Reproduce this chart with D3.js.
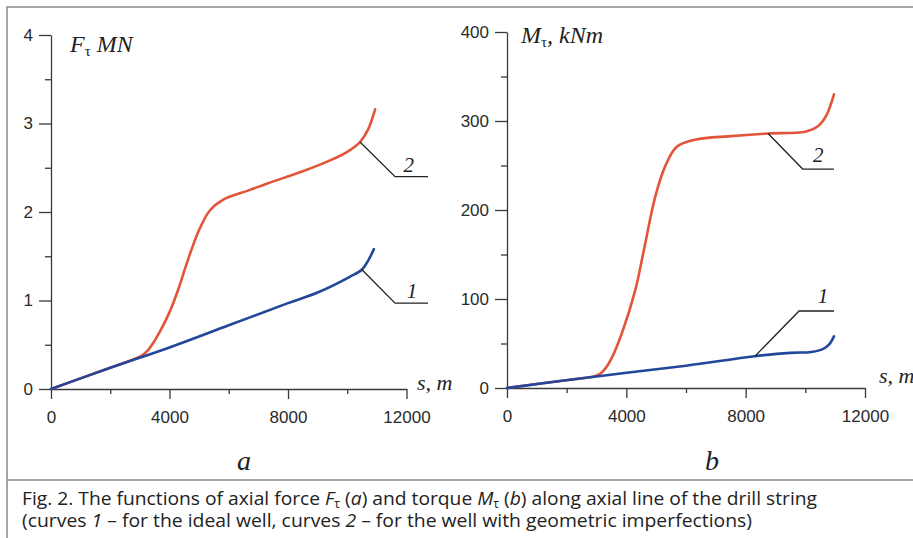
<!DOCTYPE html>
<html>
<head>
<meta charset="utf-8">
<script src="https://cdn.jsdelivr.net/npm/d3@7"></script>
<style>
  body { margin: 0; background: #fff; }
  svg { display: block; }
</style>
</head>
<body>
<svg></svg>
<script>
// ---- data ----
// panel a: axial force F (MN) vs s (m)
const sA1 = [0, 2000, 4000, 6000, 8000, 9000, 10100, 10500, 10720, 10900];
const fA1 = [0, 0.24, 0.47, 0.72, 0.97, 1.09, 1.27, 1.35, 1.46, 1.58];
const sA2 = [0, 1500, 2600, 2900, 3080, 3250, 3450, 3680, 4017, 4300, 4524, 4748, 5030, 5368, 5817, 6718, 7280, 8500, 9400, 10000, 10430, 10700, 10940];
const fA2 = [0, 0.18, 0.31, 0.35, 0.38, 0.43, 0.52, 0.65, 0.88, 1.13, 1.36, 1.58, 1.82, 2.02, 2.14, 2.25, 2.32, 2.46, 2.58, 2.68, 2.79, 2.93, 3.16];
// panel b: torque M (kNm) vs s (m)
const sB1 = [0, 3000, 6000, 8300, 9500, 10200, 10600, 10800, 10960];
const mB1 = [0, 13, 25, 35.7, 39.5, 40.5, 44, 49, 58];
const sB2 = [0, 1500, 2750, 2950, 3120, 3300, 3500, 3850, 4300, 4600, 4970, 5300, 5690, 6310, 7500, 8750, 10000, 10420, 10700, 10960];
const mB2 = [0, 6.8, 12, 13.5, 16, 22, 33, 61.5, 110, 157, 215, 249, 271, 279, 283, 286, 288, 294, 306, 330];

// ticks
const xMajor = [0, 4000, 8000, 12000];
const xMinor = [2000, 6000, 10000];
const yMajorA = [0, 1, 2, 3, 4];
const yMinorA = [0.5, 1.5, 2.5, 3.5];
const yMajorB = [0, 100, 200, 300, 400];
const yMinorB = [50, 150, 250, 350];

// curve labels: point on curve [s, v], elbow [s, v], end s, label pos [s, v]
const leadersA = [
  { name: "2", from: [10430, 2.79], elbow: [11614, 2.40], end: 12728, label: [11900, 2.45] },
  { name: "1", from: [10490, 1.35], elbow: [11614, 0.97], end: 12728, label: [12010, 1.03] }
];
const leadersB = [
  { name: "2", from: [8750, 286], elbow: [9913, 246], end: 10962, label: [10258, 254] },
  { name: "1", from: [8310, 35.7], elbow: [9789, 86.5], end: 10962, label: [10416, 95.5] }
];

const width = 913, height = 538;
const red = "#e2553a", blue = "#21469a", axisColor = "#3a3a3a";
const sans = "'Liberation Sans', Arial, sans-serif";
const serif = "'Liberation Serif', 'Times New Roman', serif";

const svg = d3.select("svg")
    .attr("width", width)
    .attr("height", height);

// khung
svg.append("path")
    .attr("d", `M7,${height}V7H${width}`)
    .attr("fill", "none")
    .attr("stroke", "#8a8a8a")
    .attr("stroke-width", 1.5);
svg.append("line")
    .attr("x1", 7).attr("x2", width)
    .attr("y1", 480).attr("y2", 480)
    .attr("stroke", "#8a8a8a")
    .attr("stroke-width", 1.5);

function drawPanel(p) {
    const x = d3.scaleLinear().domain([0, 12000]).range(p.xRange);
    const y = d3.scaleLinear().domain(p.yDomain).range(p.yRange);
    const g = svg.append("g");

    // trục X
    g.append("g")
        .attr("transform", `translate(0,${y(0)})`)
        .call(d3.axisBottom(x).tickValues(xMajor).tickSize(10).tickPadding(12)
            .tickSizeOuter(0).tickFormat(d3.format("d")));
    g.append("g")
        .attr("transform", `translate(0,${y(0)})`)
        .call(d3.axisBottom(x).tickValues(xMinor).tickSize(5).tickFormat(""))
        .select(".domain").remove();

    // trục Y
    g.append("g")
        .attr("transform", `translate(${x(0)},0)`)
        .call(d3.axisLeft(y).tickValues(p.yMajor).tickSize(12).tickPadding(6)
            .tickSizeOuter(0).tickFormat(d3.format("d")));
    g.append("g")
        .attr("transform", `translate(${x(0)},0)`)
        .call(d3.axisLeft(y).tickValues(p.yMinor).tickSize(6).tickFormat(""))
        .select(".domain").remove();

    g.selectAll(".domain, .tick line")
        .attr("stroke", axisColor)
        .attr("stroke-width", 1.3);
    g.selectAll(".tick text")
        .attr("fill", "#2a2a2a")
        .style("font-family", sans)
        .style("font-size", "17px");

    // đường cong
    const line = d3.line()
        .x(d => x(d[0]))
        .y(d => y(d[1]))
        .curve(d3.curveCatmullRom.alpha(0.5));

    p.series.forEach(s => {
        g.append("path")
            .datum(d3.zip(s.s, s.v))
            .attr("fill", "none")
            .attr("stroke", s.color)
            .attr("stroke-width", 2.6)
            .attr("stroke-linecap", "round")
            .attr("d", line);
    });

    // chú thích đường
    p.leaders.forEach(l => {
        g.append("path")
            .attr("d", `M${x(l.from[0])},${y(l.from[1])}L${x(l.elbow[0])},${y(l.elbow[1])}H${x(l.end)}`)
            .attr("fill", "none")
            .attr("stroke", "#222")
            .attr("stroke-width", 1.3);
        g.append("text")
            .attr("x", x(l.label[0]))
            .attr("y", y(l.label[1]))
            .style("font-family", serif)
            .style("font-style", "italic")
            .style("font-size", "21px")
            .attr("fill", "#222")
            .text(l.name);
    });

    // tên trục Y
    const t = g.append("text")
        .attr("x", p.title.x)
        .attr("y", p.title.y)
        .style("font-family", serif)
        .style("font-size", "24px")
        .attr("fill", "#222");
    t.append("tspan").style("font-style", "italic").text(p.title.sym);
    t.append("tspan").attr("dy", 4).style("font-size", "15px").text("τ");
    t.append("tspan").attr("dy", -4).style("font-style", "italic").text(p.title.unit);

    // tên trục X
    g.append("text")
        .attr("x", p.sLabel.x)
        .attr("y", p.sLabel.y)
        .style("font-family", serif)
        .style("font-style", "italic")
        .style("font-size", "22px")
        .attr("fill", "#222")
        .text("s, m");

    // chữ a / b
    g.append("text")
        .attr("x", p.letter.x)
        .attr("y", 470)
        .attr("text-anchor", "middle")
        .style("font-family", serif)
        .style("font-style", "italic")
        .style("font-size", "28px")
        .attr("fill", "#222")
        .text(p.letter.text);
}

drawPanel({
    xRange: [51, 406.5], yDomain: [0, 4], yRange: [389, 35],
    yMajor: yMajorA, yMinor: yMinorA,
    series: [
        { s: sA2, v: fA2, color: red },
        { s: sA1, v: fA1, color: blue }
    ],
    leaders: leadersA,
    title: { x: 70, y: 52, sym: "F", unit: " MN" },
    sLabel: { x: 417, y: 390 },
    letter: { x: 244, text: "a" }
});

drawPanel({
    xRange: [507, 865], yDomain: [0, 400], yRange: [388, 32],
    yMajor: yMajorB, yMinor: yMinorB,
    series: [
        { s: sB2, v: mB2, color: red },
        { s: sB1, v: mB1, color: blue }
    ],
    leaders: leadersB,
    title: { x: 521, y: 43, sym: "M", unit: ", kNm" },
    sLabel: { x: 879, y: 383 },
    letter: { x: 712, text: "b" }
});

// chú thích hình
const capFont = "'Open Sans', 'Noto Sans', sans-serif";
const cap1 = svg.append("text")
    .attr("x", 22).attr("y", 505)
    .attr("textLength", 795).attr("lengthAdjust", "spacingAndGlyphs")
    .style("font-family", capFont)
    .style("font-size", "19px")
    .attr("fill", "#222");
cap1.append("tspan").text("Fig. 2. The functions of axial force ");
cap1.append("tspan").style("font-style", "italic").text("F");
cap1.append("tspan").attr("dy", 3).style("font-size", "12px").text("τ");
cap1.append("tspan").attr("dy", -3).text(" (");
cap1.append("tspan").style("font-style", "italic").text("a");
cap1.append("tspan").text(") and torque ");
cap1.append("tspan").style("font-style", "italic").text("M");
cap1.append("tspan").attr("dy", 3).style("font-size", "12px").text("τ");
cap1.append("tspan").attr("dy", -3).text(" (");
cap1.append("tspan").style("font-style", "italic").text("b");
cap1.append("tspan").text(") along axial line of the drill string");

const cap2 = svg.append("text")
    .attr("x", 22).attr("y", 527)
    .attr("textLength", 730).attr("lengthAdjust", "spacingAndGlyphs")
    .style("font-family", capFont)
    .style("font-size", "19px")
    .attr("fill", "#222");
cap2.append("tspan").text("(curves ");
cap2.append("tspan").style("font-style", "italic").text("1");
cap2.append("tspan").text(" – for the ideal well, curves ");
cap2.append("tspan").style("font-style", "italic").text("2");
cap2.append("tspan").text(" – for the well with geometric imperfections)");
</script>
</body>
</html>
